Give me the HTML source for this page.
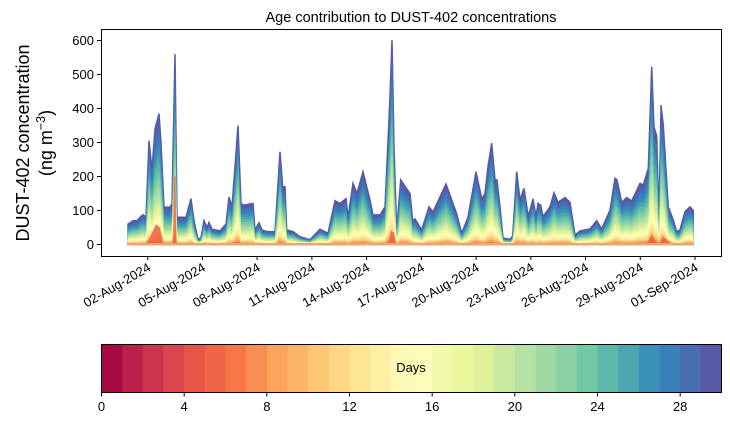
<!DOCTYPE html>
<html><head><meta charset="utf-8"><style>
body{margin:0;background:#fff;}
svg{display:block;font-family:"Liberation Sans","DejaVu Sans",sans-serif;}
</style></head><body>
<svg id="s" width="730" height="425" xmlns="http://www.w3.org/2000/svg">
<text x="411" y="22" font-size="14.5" text-anchor="middle">Age contribution to DUST-402 concentrations</text>
<g id="chart"></g>
<rect x="101.5" y="29.5" width="620" height="227" fill="none" stroke="#000" stroke-width="1"/>
<g id="yt" font-size="13" text-anchor="end"></g>
<g id="xt" font-size="13" text-anchor="end"></g>
<text transform="translate(29,143) rotate(-90)" font-size="18" text-anchor="middle">DUST-402 concentration</text>
<text transform="translate(52,143) rotate(-90)" font-size="18" text-anchor="middle">(ng m<tspan dy="-7" font-size="12.5">−3</tspan><tspan dy="7">)</tspan></text>
<g id="cb"></g>
<rect x="101.5" y="344.5" width="620" height="48" fill="none" stroke="#000" stroke-width="1"/>
<text x="411" y="372" font-size="13" text-anchor="middle">Days</text>
<g id="ct" font-size="13" text-anchor="middle"></g>
</svg>
<script>
var NS="http://www.w3.org/2000/svg";
function el(p,t,a,txt){var e=document.createElementNS(NS,t);for(var k in a)e.setAttribute(k,a[k]);if(txt!=null)e.textContent=txt;p.appendChild(e);return e;}
var sp=["#9e0142","#d53e4f","#f46d43","#fdae61","#fee08b","#ffffbf","#e6f598","#abdda4","#66c2a5","#3288bd","#5e4fa2"];
function hx(h){return [parseInt(h.substr(1,2),16),parseInt(h.substr(3,2),16),parseInt(h.substr(5,2),16)];}
function cmap(t){t=Math.max(0,Math.min(1,t));var p=t*10,i=Math.min(9,Math.floor(p)),f=p-i,a=hx(sp[i]),b=hx(sp[i+1]);
return "rgb("+a.map(function(v,j){return Math.round(v+(b[j]-v)*f);}).join(",")+")";}
var Y0=244.5,SC=0.34;function yv(v){return Y0-v*SC;}
var pts=[[128,60],[133,70],[137,70],[140,80],[143,88],[146,80],[149,305],[152,220],[155,340],[159,385],[161,300],[164,110],[170,110],[172,120],[175,560],[177,80],[182,80],[186,80],[191,135],[194,70],[198,15],[201,20],[204,70],[207,50],[209,65],[212,45],[220,40],[226,60],[229,140],[232,110],[238,350],[241,120],[244,116],[253,121],[255,43],[259,64],[262,43],[267,38],[275,38],[280,273],[282.7,170],[285,170],[286.7,43],[293,38],[300,23],[310,14],[320,45],[328,33],[335,129],[340,121],[346,135],[348,80],[353,180],[357,150],[363,214],[370,131],[373,87],[380,87],[385,111],[390,435],[392,601],[394,288],[396.7,43],[400.7,190],[410,150],[412.7,70],[415,75],[421.7,43],[429,111],[433,96],[446,178],[456.7,90],[461.7,33],[468,80],[476,214],[481.7,135],[485,150],[488,229],[491.7,298],[495,190],[497,190],[500,111],[503,19],[510,15],[512.7,25],[516.7,214],[520,131],[524,165],[528.3,82],[533,134],[536,82],[538,121],[540.7,116],[543,82],[550,111],[554,152],[558,124],[565,138],[570,124],[575,28],[580,40],[590,46],[596.7,70],[601.7,46],[610,101],[615,195],[617,190],[621.7,124],[626.7,138],[631.7,128],[640,180],[643.3,175],[648.3,224],[651.7,523],[654,346],[656.7,320],[659,72],[661,410],[663.3,350],[668.3,111],[673.3,72],[676.7,38],[680,43],[685,97],[690,111],[693.3,100]];
var ch=document.getElementById("chart");
function poly(f,col){var d="M"+pts[0][0]+","+Y0;pts.forEach(function(p){d+=" L"+p[0]+","+yv(p[1]*f).toFixed(1);});d+=" L"+pts[pts.length-1][0]+","+Y0+"Z";el(ch,"path",{d:d,fill:col,stroke:col,"stroke-width":f>0.99?1.5:0.5});}
for(var a=30;a>=1;a--){var f=Math.pow(a/30,2.6);poly(f,cmap((a-0.5)/30));}
[[[144,0],[148,10],[152,35],[156,60],[160,50],[163,8],[164,0]],[[173,0],[174,200],[175.5,200],[176.5,0]],[[388,0],[391,40],[394,35],[396,0]],[[644,0],[648,10],[652,30],[656,8],[659,0]],[[660,0],[663,25],[668,12],[672,0]]].forEach(function(s){var d="M"+s.map(function(p){return p[0]+","+yv(p[1]);}).join(" L")+"Z";el(ch,"path",{d:d,fill:"#ec6445",opacity:0.85});});
el(ch,"rect",{x:128,y:243,width:566,height:2,fill:"#f6a55a"});
var yt=document.getElementById("yt");
for(var v=0;v<=600;v+=100){var y=yv(v);el(yt,"line",{x1:97,x2:101,y1:y,y2:y,stroke:"#000"});el(yt,"text",{x:94,y:y+4.5},String(v));}
var xt=document.getElementById("xt");
var labs=["02-Aug-2024","05-Aug-2024","08-Aug-2024","11-Aug-2024","14-Aug-2024","17-Aug-2024","20-Aug-2024","23-Aug-2024","26-Aug-2024","29-Aug-2024","01-Sep-2024"];
labs.forEach(function(l,i){var x=147.7+i*54.73;el(xt,"line",{x1:x,x2:x,y1:256,y2:260,stroke:"#000"});el(xt,"text",{transform:"translate("+(x+4)+",270) rotate(-30)"},l);});
var cb=document.getElementById("cb");
for(var i=0;i<30;i++){el(cb,"rect",{x:101.5+i*620/30,y:344.5,width:620/30+0.5,height:48,fill:cmap((i+0.5)/30)});}
var ct=document.getElementById("ct");
for(var d=0;d<=28;d+=4){var x=101.5+d*620/30;el(ct,"line",{x1:x,x2:x,y1:392.5,y2:396.5,stroke:"#000"});el(ct,"text",{x:x,y:411},String(d));}
</script>
</body></html>
